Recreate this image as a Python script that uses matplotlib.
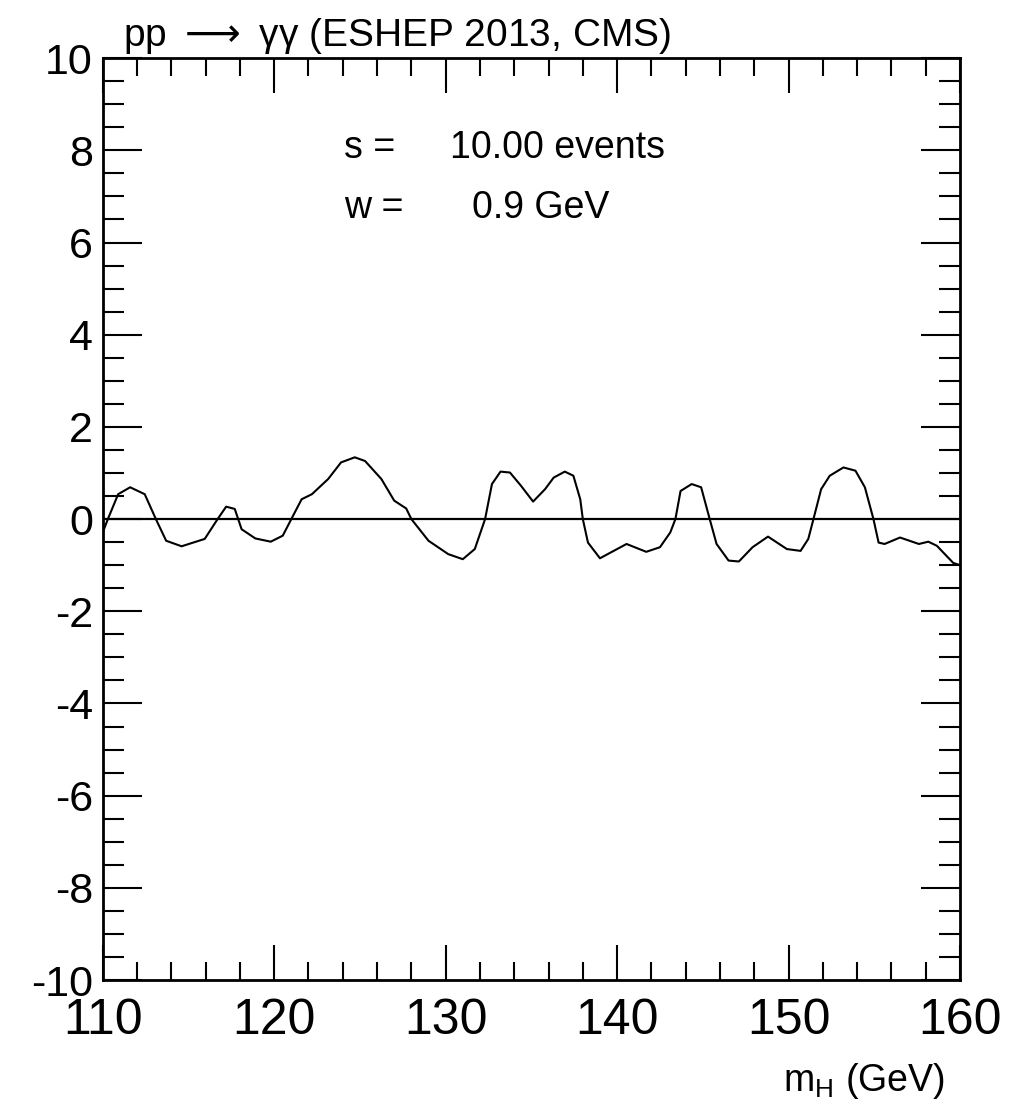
import numpy as np
import matplotlib
matplotlib.use('Agg')
import matplotlib.pyplot as plt
from matplotlib.ticker import MultipleLocator

plt.rcParams['font.family'] = ['Liberation Sans', 'DejaVu Sans']
plt.rcParams['axes.unicode_minus'] = False

# Higgs mass scan (GeV) and local significance
mass = [110.0, 110.3, 110.9, 111.6, 112.45, 113.1, 113.7, 114.6, 115.95, 116.7,
        117.2, 117.7, 118.1, 118.9, 119.8, 120.5, 121.0, 121.6, 122.2, 123.15,
        123.9, 124.7, 125.3, 126.25, 127.0, 127.7, 128.0, 129.0, 130.15, 131.0,
        131.7, 132.3, 132.7, 133.2, 133.75, 134.4, 135.1, 135.8, 136.3, 136.95,
        137.45, 137.85, 138.0, 138.3, 139.0, 139.8, 140.55, 141.7, 142.5, 143.1,
        143.4, 143.7, 144.35, 144.9, 145.4, 145.8, 146.5, 147.1, 147.9, 148.8,
        149.9, 150.7, 151.15, 151.45, 151.9, 152.4, 153.2, 153.9, 154.45, 154.95,
        155.25, 155.6, 156.5, 157.6, 158.15, 158.65, 159.6, 160.0]
signif = [-0.29, 0.0, 0.54, 0.69, 0.54, 0.0, -0.47, -0.59, -0.43, 0.0,
          0.27, 0.22, -0.22, -0.42, -0.49, -0.36, 0.0, 0.43, 0.54, 0.87,
          1.23, 1.34, 1.26, 0.87, 0.40, 0.23, 0.0, -0.47, -0.76, -0.87,
          -0.65, 0.0, 0.76, 1.03, 1.01, 0.72, 0.38, 0.65, 0.9, 1.03,
          0.94, 0.43, 0.0, -0.51, -0.85, -0.69, -0.54, -0.71, -0.61, -0.29,
          0.0, 0.61, 0.76, 0.69, 0.0, -0.54, -0.9, -0.92, -0.61, -0.38,
          -0.65, -0.69, -0.43, 0.0, 0.65, 0.94, 1.12, 1.05, 0.69, 0.0,
          -0.51, -0.54, -0.4, -0.54, -0.49, -0.58, -0.95, -1.0]

s_events = 10.00
w_gev = 0.9

fig = plt.figure(figsize=(10.17, 11.18), dpi=100)
ax = fig.add_axes([0.101, 0.1234, 0.843, 0.8246])

ax.plot(mass, signif, color='black', lw=1.5)
ax.axhline(0, color='black', lw=1.6)

ax.set_xlim(110, 160)
ax.set_ylim(-10, 10)
ax.xaxis.set_major_locator(MultipleLocator(10))
ax.xaxis.set_minor_locator(MultipleLocator(2))
ax.yaxis.set_major_locator(MultipleLocator(2))
ax.yaxis.set_minor_locator(MultipleLocator(0.5))

ax.tick_params(which='both', direction='in', top=True, right=True, width=1.5)
ax.tick_params(axis='x', which='major', length=25, labelsize=36, pad=13)
ax.tick_params(axis='x', which='minor', length=13)
ax.tick_params(axis='y', which='major', length=28, labelsize=31, pad=7)
ax.tick_params(axis='y', which='minor', length=15)
for sp in ax.spines.values():
    sp.set_linewidth(2)

ax.text(0.982, -0.11, r'm$_\mathregular{H}$ (GeV)', transform=ax.transAxes,
        ha='right', va='center', fontsize=27)

fig.text(123 / 1017, 1 - 36 / 1118, 'pp $\\longrightarrow$ \u03b3\u03b3 (ESHEP 2013, CMS)',
         ha='left', va='center', fontsize=28)

ax.text(0.282, 0.902, 's =', transform=ax.transAxes, ha='left', va='center', fontsize=27)
ax.text(0.405, 0.902, f'{s_events:.2f} events', transform=ax.transAxes,
        ha='left', va='center', fontsize=27)
ax.text(0.282, 0.837, 'w =', transform=ax.transAxes, ha='left', va='center', fontsize=27)
ax.text(0.431, 0.837, f'{w_gev:.1f} GeV', transform=ax.transAxes,
        ha='left', va='center', fontsize=27)

fig.savefig('out.png', dpi=100)
